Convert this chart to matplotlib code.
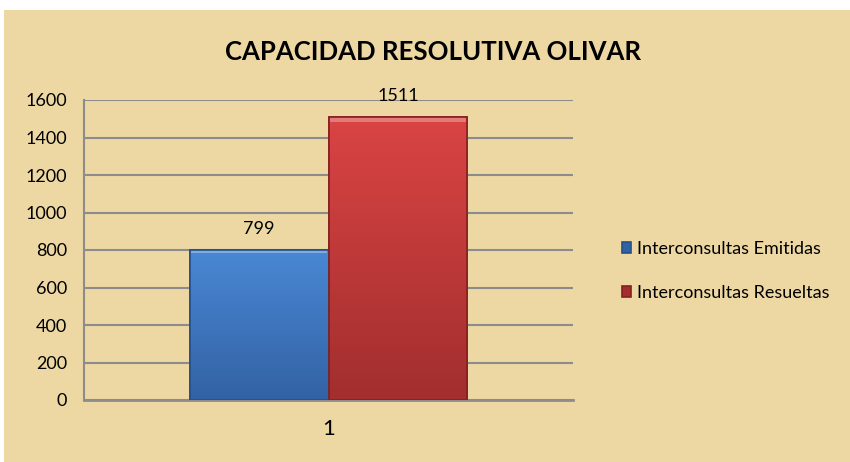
import numpy as np
import matplotlib
matplotlib.use("Agg")
import matplotlib.pyplot as plt
from matplotlib.patches import Rectangle
from matplotlib.colors import LinearSegmentedColormap

# Datos del grafico
titulo = "CAPACIDAD RESOLUTIVA OLIVAR"
categorias = ["1"]
series = ["Interconsultas Emitidas", "Interconsultas Resueltas"]
valores = [799, 1511]
colores_top = ["#4A88D4", "#DA4444"]
colores_bot = ["#3262A4", "#A22E2E"]
colores_borde = ["#24508C", "#86201F"]
y_ticks = [0, 200, 400, 600, 800, 1000, 1200, 1400, 1600]

plt.rcParams['font.family'] = ['Lato', 'DejaVu Sans']

fig = plt.figure(figsize=(8.5, 4.62), dpi=100, facecolor="white")

# fondo tipo pergamino
fig.patches.append(Rectangle((4 / 850, 0), 1, 1 - 10 / 462, transform=fig.transFigure,
                             facecolor="#EDD8A3", edgecolor="none", zorder=-10))

ax = fig.add_axes([84 / 850, 1 - 400 / 462, (573 - 84) / 850, 300 / 462])
ax.set_facecolor("none")

ancho = 0.284
x0 = 0.0
for i, (serie, val) in enumerate(zip(series, valores)):
    xpos = x0 - ancho / 2 + i * ancho
    bar = ax.bar(xpos, val, width=ancho, color=colores_bot[i], edgecolor=colores_borde[i],
                 linewidth=1.2, label=serie, zorder=3)[0]
    # degradado vertical dentro de la barra
    cmap = LinearSegmentedColormap.from_list("g", [colores_bot[i], colores_top[i]])
    grad = np.linspace(0, 1, 256).reshape(-1, 1)
    im = ax.imshow(grad, cmap=cmap, aspect="auto", origin="lower", zorder=3.5,
                   extent=[xpos - ancho / 2, xpos + ancho / 2, 0, val])
    im.set_clip_path(bar)
    # brillo superior (bisel)
    ax.bar(xpos, val * 0.012 + 8, bottom=val - (val * 0.012 + 8), width=ancho * 0.98,
           color="white", alpha=0.3, linewidth=0, zorder=4)
    ax.bar(xpos, val, width=ancho, color="none", edgecolor=colores_borde[i],
           linewidth=1.2, zorder=4.5)
    ax.annotate(str(val), (xpos, val), xytext=(0, 11.5), textcoords="offset points",
                ha="center", va="baseline", fontsize=13)

ax.set_xlim(-0.5, 0.5)
ax.set_ylim(0, 1600)
ax.set_yticks(y_ticks)
ax.set_yticklabels([str(t) for t in y_ticks], fontsize=13)
ax.set_xticks([x0])
ax.set_xticklabels(categorias, fontsize=16)
ax.tick_params(axis="both", length=0)
ax.tick_params(axis="y", pad=12)
ax.tick_params(axis="x", pad=14)
ax.grid(axis="y", color="#8C8C8C", linewidth=1.5, zorder=1)
ax.set_axisbelow(True)
for s in ["top", "right"]:
    ax.spines[s].set_visible(False)
ax.spines["left"].set_color("#8C8C8C")
ax.spines["left"].set_linewidth(1.5)
ax.spines["bottom"].set_color("#8C8C8C")
ax.spines["bottom"].set_linewidth(2)

fig.text(433 / 850, 1 - 52 / 462, titulo, ha="center", va="center",
         fontsize=18.5, fontweight="bold")

ax.legend(loc="center left", bbox_to_anchor=(606 / 850, 1 - 271 / 462),
          bbox_transform=fig.transFigure, frameon=False, fontsize=13,
          handlelength=0.5, handleheight=0.5, handletextpad=0.3, labelspacing=1.55)

fig.savefig("out.png", dpi=100, facecolor=fig.get_facecolor())
